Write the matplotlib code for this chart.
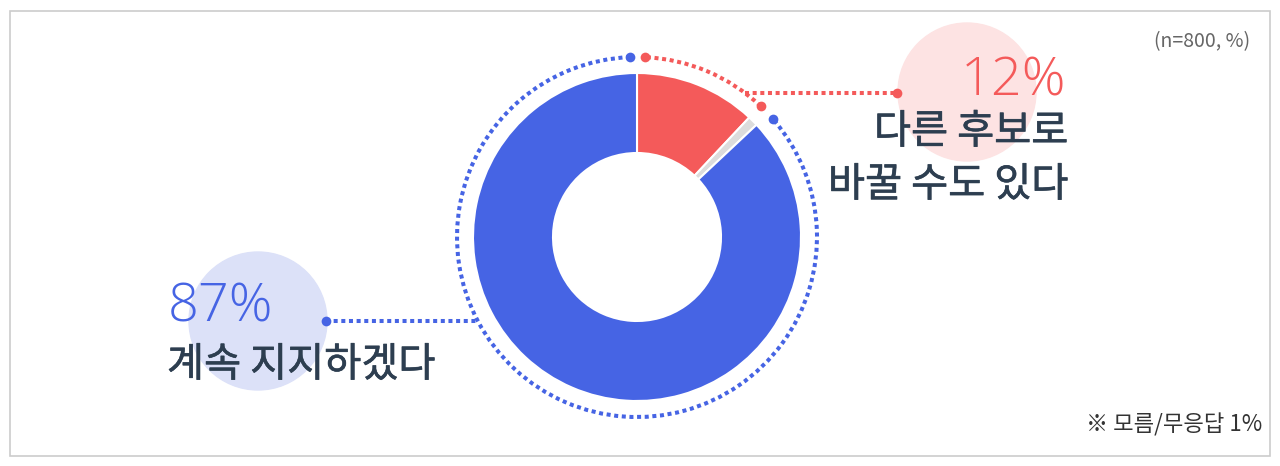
import numpy as np
import matplotlib.pyplot as plt
import matplotlib.patheffects as pe
from matplotlib.patches import Arc, Circle, Rectangle

plt.rcParams['font.family'] = ['Noto Sans CJK KR', 'DejaVu Sans']

# 데이터
labels = ['다른 후보로 바꿀 수도 있다', '모름/무응답', '계속 지지하겠다']
values = [12, 1, 87]
colors = ['#f45a5a', '#dcdcdc', '#4664e4']
note_top = '(n=800, %)'
note_bottom = '※ 모름/무응답 1%'

W, H = 1280, 466
fig = plt.figure(figsize=(12.8, 4.66), dpi=100)
ax = fig.add_axes([0, 0, 1, 1])

cx, cy = 637, H - 237
r_out, r_ring = 164, 180

# 도넛
ax.pie(values, colors=colors, startangle=90, counterclock=False,
       center=(cx, cy), radius=r_out,
       wedgeprops=dict(width=80, edgecolor='white', linewidth=1.5))

# 점선 링
red_end = 90 - 360 * values[0] / 100
blue_start = red_end - 360 * values[1] / 100
dots = (0, (1, 0.9))
lw = 2.9
ax.add_patch(Arc((cx, cy), 2 * r_ring, 2 * r_ring, theta1=red_end - 0.2, theta2=87.5,
                 color=colors[0], lw=lw, linestyle=dots))
ax.add_patch(Arc((cx, cy), 2 * r_ring, 2 * r_ring, theta1=92.2, theta2=blue_start - 2.3,
                 color=colors[2], lw=lw, linestyle=dots))
for ang, c in [(87.5, colors[0]), (red_end - 0.2, colors[0]),
               (92.2, colors[2]), (blue_start - 2.3, colors[2])]:
    a = np.radians(ang)
    ax.plot(cx + r_ring * np.cos(a), cy + r_ring * np.sin(a), 'o', color=c, ms=7, mec='none')

# 연결선
ly = H - 93
lx = cx + np.sqrt(r_ring ** 2 - (ly - cy) ** 2)
ax.plot([lx, 897], [ly, ly], color=colors[0], lw=lw, linestyle=dots)
ax.plot(897, ly, 'o', color=colors[0], ms=7, mec='none')

by = H - 321
bx = cx - np.sqrt(r_ring ** 2 - (by - cy) ** 2)
ax.plot([326, bx], [by, by], color=colors[2], lw=lw, linestyle=dots)
ax.plot(326, by, 'o', color=colors[2], ms=7, mec='none')

# 배경 원
ax.add_patch(Circle((967, H - 92), 69, color='#fde3e3', zorder=0))
ax.add_patch(Circle((258, H - 321), 69, color='#dce1f8', zorder=0))

# 텍스트
dark = '#2d3e50'
num_font = ['Open Sans', 'Noto Sans CJK KR']
medium = [pe.withStroke(linewidth=0.45, foreground=dark)]
ax.text(1066, H - 95, f'{values[0]}%', ha='right', va='baseline', fontsize=39,
        family=num_font, fontweight='light', color=colors[0])
ax.text(1068, H - 132, '다른 후보로', ha='right', va='center', fontsize=29,
        color=dark, path_effects=medium)
ax.text(1068, H - 185, '바꿀 수도 있다', ha='right', va='center', fontsize=29,
        color=dark, path_effects=medium)
ax.text(168, H - 322, f'{values[2]}%', ha='left', va='baseline', fontsize=39,
        family=num_font, fontweight='light', color=colors[2])
ax.text(167, H - 365, labels[2], ha='left', va='center', fontsize=29,
        color=dark, path_effects=medium)

ax.text(1250, H - 42, note_top, ha='right', va='center', fontsize=14, color='#666666')
ax.text(1262, H - 425, note_bottom, ha='right', va='center', fontsize=16, color='#333333')

# 테두리
ax.add_patch(Rectangle((10, H - 456), 1260, 445, fill=False, edgecolor='#cccccc', lw=1.2))

ax.set_xlim(0, W)
ax.set_ylim(0, H)
ax.set_aspect('equal')
ax.axis('off')

fig.savefig('out.png', dpi=100)
